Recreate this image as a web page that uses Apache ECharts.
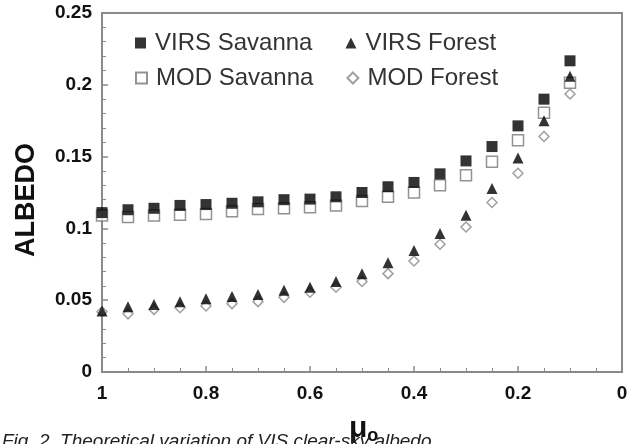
<!DOCTYPE html>
<html>
<head>
<meta charset="utf-8">
<script src="https://cdn.jsdelivr.net/npm/echarts@6/dist/echarts.min.js"></script>
<style>
  html, body { margin: 0; padding: 0; background: #fff; }
  #chart { width: 640px; height: 444px; }
</style>
</head>
<body>
<div id="chart"></div>
<script>
// Cosine of solar zenith angle
const mu = [1, 0.95, 0.9, 0.85, 0.8, 0.75, 0.7, 0.65, 0.6, 0.55, 0.5, 0.45, 0.4, 0.35, 0.3, 0.25, 0.2, 0.15, 0.1];

// Clear-sky albedo, VIRS and MODIS, savanna and forest surfaces
const virsSavanna = [0.111, 0.113, 0.114, 0.116, 0.1166, 0.1175, 0.1185, 0.120, 0.1204, 0.122, 0.125, 0.129, 0.132, 0.138, 0.147, 0.157, 0.1714, 0.190, 0.2167];
const modSavanna  = [0.109, 0.108, 0.109, 0.1095, 0.110, 0.112, 0.1135, 0.114, 0.1147, 0.116, 0.119, 0.122, 0.125, 0.130, 0.137, 0.1465, 0.1614, 0.1805, 0.2014];
const virsForest  = [0.0424, 0.0455, 0.047, 0.049, 0.051, 0.0526, 0.054, 0.057, 0.059, 0.063, 0.0685, 0.076, 0.0846, 0.0965, 0.1092, 0.1277, 0.149, 0.175, 0.206];
const modForest   = [0.042, 0.0405, 0.0436, 0.0448, 0.046, 0.0476, 0.049, 0.052, 0.0555, 0.059, 0.063, 0.0685, 0.0773, 0.089, 0.101, 0.118, 0.1384, 0.164, 0.1936];

const xTicks = [1, 0.8, 0.6, 0.4, 0.2, 0];
const yTicks = [0, 0.05, 0.1, 0.15, 0.2, 0.25];

const FONT = '"Liberation Sans", Arial, Helvetica, sans-serif';
const AXIS_GREY = '#8a8a8a';

function pairs(ys) { return mu.map((m, i) => [m, ys[i]]); }

const chart = echarts.init(document.getElementById('chart'), null, { renderer: 'canvas' });

const tickLabel = { color: '#111', fontFamily: FONT, fontWeight: 'bold', fontSize: 19 };
const legendText = { fontFamily: FONT, fontSize: 24, color: '#333', padding: [0, 0, 0, 4] };

chart.setOption({
  animation: false,
  backgroundColor: '#fff',
  grid: { left: 102, right: 18, top: 13, bottom: 72, show: true, borderColor: AXIS_GREY, borderWidth: 2, backgroundColor: 'transparent' },
  legend: [
    {
      data: ['VIRS Savanna', 'VIRS Forest'],
      left: 130, top: 26, orient: 'horizontal', itemGap: 33,
      itemWidth: 11, itemHeight: 11, textStyle: legendText
    },
    {
      data: ['MOD Savanna', 'MOD Forest'],
      left: 130, top: 61, orient: 'horizontal', itemGap: 33,
      itemWidth: 11, itemHeight: 11, textStyle: legendText
    }
  ],
  xAxis: {
    type: 'value', inverse: true, min: 0, max: 1, interval: 0.2,
    axisLine: { show: true, onZero: false, lineStyle: { color: AXIS_GREY, width: 2 } },
    axisTick: { show: true, inside: true, length: 6, lineStyle: { color: AXIS_GREY, width: 1.5 } },
    minorTick: { show: true, splitNumber: 4, length: 4, lineStyle: { color: AXIS_GREY, width: 1 } },
    splitLine: { show: false },
    axisLabel: Object.assign({ margin: 12, formatter: v => xTicks.includes(+v.toFixed(2)) ? String(+v.toFixed(2)) : '' }, tickLabel)
  },
  yAxis: {
    type: 'value', min: 0, max: 0.25, interval: 0.05,
    axisLine: { show: true, onZero: false, lineStyle: { color: AXIS_GREY, width: 2 } },
    axisTick: { show: true, inside: true, length: 6, lineStyle: { color: AXIS_GREY, width: 1.5 } },
    minorTick: { show: true, splitNumber: 5, length: 4, lineStyle: { color: AXIS_GREY, width: 1 } },
    splitLine: { show: false },
    axisLabel: Object.assign({ margin: 10, formatter: v => {
      const r = +v.toFixed(2);
      return yTicks.includes(r) ? String(r) : '';
    } }, tickLabel)
  },
  graphic: [
    {
      type: 'text', x: 27, y: 200, rotation: Math.PI / 2,
      style: {
        text: 'ALBEDO', align: 'center', verticalAlign: 'middle',
        fontFamily: FONT, fontWeight: 'bold', fontSize: 27, fill: '#111'
      }
    },
    {
      type: 'text', left: 349, top: 414,
      style: {
        text: '{m|μ}{s|o}',
        rich: {
          m: { fontFamily: FONT, fontWeight: 'bold', fontSize: 30, fill: '#111' },
          s: { fontFamily: FONT, fontWeight: 'bold', fontSize: 18, fill: '#111', verticalAlign: 'bottom', padding: [14, 0, 0, 0] }
        }
      }
    },
    {
      type: 'text', left: 2, top: 432,
      style: {
        text: 'Fig. 2. Theoretical variation of VIS clear-sky albedo',
        fontFamily: FONT, fontStyle: 'italic', fontSize: 19, fill: '#222'
      }
    }
  ],
  series: [
    {
      name: 'MOD Savanna', type: 'scatter', data: pairs(modSavanna), clip: false,
      symbol: 'rect', symbolSize: 11, z: 2,
      itemStyle: { color: '#fff', borderColor: '#777', borderWidth: 1.5 }
    },
    {
      name: 'MOD Forest', type: 'scatter', data: pairs(modForest), clip: false,
      symbol: 'diamond', symbolSize: 10, z: 3,
      itemStyle: { color: '#fff', borderColor: '#888', borderWidth: 1.5 }
    },
    {
      name: 'VIRS Forest', type: 'scatter', data: pairs(virsForest), clip: false,
      symbol: 'triangle', symbolSize: 11, z: 4,
      itemStyle: { color: '#000' }
    },
    {
      name: 'VIRS Savanna', type: 'scatter', data: pairs(virsSavanna), clip: false,
      symbol: 'rect', symbolSize: 11, z: 5,
      itemStyle: { color: '#000' }
    }
  ]
});
</script>
</body>
</html>
